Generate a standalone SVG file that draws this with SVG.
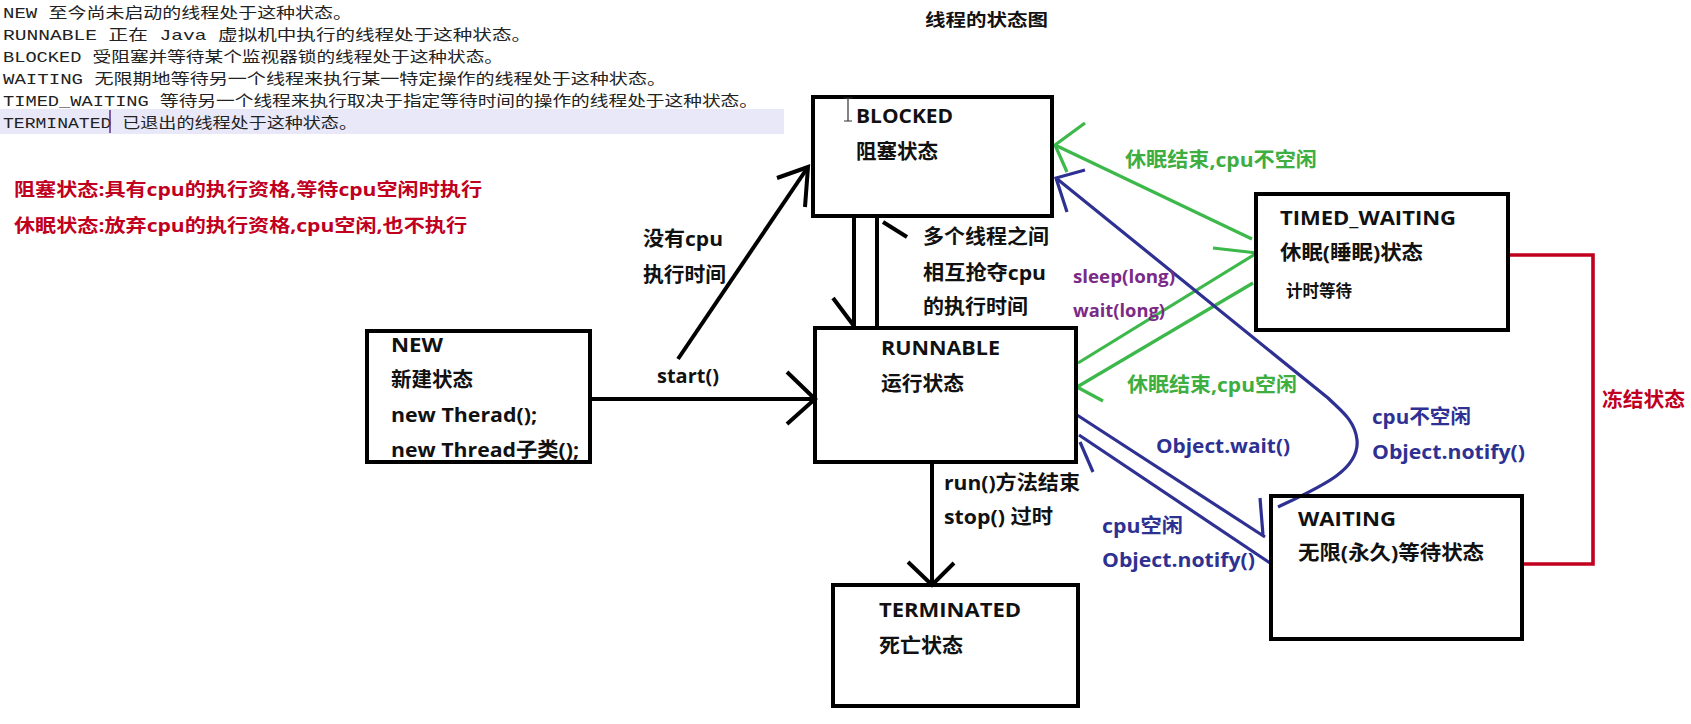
<svg xmlns="http://www.w3.org/2000/svg" width="1691" height="724" viewBox="0 0 1691 724">
<style>
.mono{font-family:"Liberation Mono","Noto Sans CJK SC",monospace;font-size:15px;fill:#222}
.red{font-family:"Open Sans","Noto Sans CJK SC",sans-serif;font-size:18px;font-weight:700;fill:#C0001E}
.lbl{font-family:"Open Sans","Noto Sans CJK SC",sans-serif;font-size:20px;font-weight:700;fill:#111}
.sm{font-family:"Open Sans","Noto Sans CJK SC",sans-serif;font-size:17px;font-weight:700;fill:#111}
.g{fill:#3DAE3F}
.b{fill:#2E3192}
.p{fill:#7B2A86}
.box{fill:none;stroke:#000;stroke-width:4}
.k{stroke:#000;stroke-width:4;fill:none}
.gl{stroke:#3DB84A;stroke-width:3.2;fill:none}
.bl{stroke:#2E3192;stroke-width:3.2;fill:none}
.rl{stroke:#C0001E;stroke-width:3.6;fill:none}
</style>
<rect width="1691" height="724" fill="#fff"/>
<rect x="0" y="109" width="784" height="25" fill="#E8E8F8"/>
<g id="notes">
<text class="mono" x="3" y="17.5" textLength="349" lengthAdjust="spacingAndGlyphs">NEW 至今尚未启动的线程处于这种状态。</text>
<text class="mono" x="3" y="39.5" textLength="528" lengthAdjust="spacingAndGlyphs">RUNNABLE 正在 Java 虚拟机中执行的线程处于这种状态。</text>
<text class="mono" x="3" y="61.5" textLength="500" lengthAdjust="spacingAndGlyphs">BLOCKED 受阻塞并等待某个监视器锁的线程处于这种状态。</text>
<text class="mono" x="3" y="83.5" textLength="663" lengthAdjust="spacingAndGlyphs">WAITING 无限期地等待另一个线程来执行某一特定操作的线程处于这种状态。</text>
<text class="mono" x="3" y="105.5" textLength="755" lengthAdjust="spacingAndGlyphs">TIMED_WAITING 等待另一个线程来执行取决于指定等待时间的操作的线程处于这种状态。</text>
<text class="mono" x="3" y="127.5" textLength="354" lengthAdjust="spacingAndGlyphs">TERMINATED 已退出的线程处于这种状态。</text>
<line x1="110" y1="110" x2="110" y2="133" stroke="#5A2D8A" stroke-width="1.5"/>
<text class="red" x="14" y="196" textLength="468" lengthAdjust="spacingAndGlyphs">阻塞状态:具有cpu的执行资格,等待cpu空闲时执行</text>
<text class="red" x="14" y="232" textLength="453" lengthAdjust="spacingAndGlyphs">休眠状态:放弃cpu的执行资格,cpu空闲,也不执行</text>
<text class="sm" x="925" y="26" textLength="123" lengthAdjust="spacingAndGlyphs">线程的状态图</text>
</g>
<g id="connectors">
<line class="k" x1="590" y1="399" x2="815" y2="399"/>
<polyline class="k" points="787,372 815,399 787,424"/>
<line class="k" x1="678" y1="359" x2="808" y2="167"/>
<polyline class="k" points="777,178 808,167 805,207"/>
<line class="k" x1="854" y1="216" x2="854" y2="328"/>
<line class="k" x1="833" y1="298" x2="854" y2="326"/>
<line class="k" x1="877" y1="328" x2="877" y2="216"/>
<line class="k" x1="883" y1="222" x2="907" y2="237"/>
<line class="k" x1="932" y1="463" x2="932" y2="585"/>
<polyline class="k" points="908,562 932,585 954,563"/>
<line class="gl" x1="1252" y1="239" x2="1055" y2="145"/>
<polyline class="gl" points="1085,123 1055,145 1067,172"/>
<line class="gl" x1="1078" y1="363" x2="1257" y2="253"/>
<line class="gl" x1="1213" y1="248" x2="1257" y2="253"/>
<line class="gl" x1="1253" y1="283" x2="1077" y2="387"/>
<line class="gl" x1="1103" y1="401" x2="1077" y2="387"/>
<line class="bl" x1="1077" y1="415" x2="1265" y2="537"/>
<line class="bl" x1="1260" y1="498" x2="1263" y2="535"/>
<line class="bl" x1="1270" y1="563" x2="1079" y2="435"/>
<line class="bl" x1="1080" y1="442" x2="1093" y2="472"/>
<path class="bl" d="M1278,507 C1320,487 1360,470 1357,440 C1355,420 1340,410 1328,398 L1056,178"/>
<polyline class="bl" points="1085,170 1056,178 1067,212"/>
<polyline class="rl" points="1508,255 1593,255 1593,564 1522,564"/>
</g>
<g id="labels">
<text class="lbl" x="643" y="246" textLength="80" lengthAdjust="spacingAndGlyphs">没有cpu</text>
<text class="lbl" x="643" y="282" textLength="83" lengthAdjust="spacingAndGlyphs">执行时间</text>
<text class="lbl" x="657" y="383" textLength="62" lengthAdjust="spacingAndGlyphs">start()</text>
<text class="lbl" x="923" y="244" textLength="126" lengthAdjust="spacingAndGlyphs">多个线程之间</text>
<text class="lbl" x="923" y="280" textLength="123" lengthAdjust="spacingAndGlyphs">相互抢夺cpu</text>
<text class="lbl" x="923" y="314" textLength="105" lengthAdjust="spacingAndGlyphs">的执行时间</text>
<text class="sm p" x="1073" y="283" textLength="102" lengthAdjust="spacingAndGlyphs">sleep(long)</text>
<text class="sm p" x="1073" y="317" textLength="92" lengthAdjust="spacingAndGlyphs">wait(long)</text>
<text class="lbl" x="944" y="490" textLength="136" lengthAdjust="spacingAndGlyphs">run()方法结束</text>
<text class="lbl" x="944" y="524" textLength="109" lengthAdjust="spacingAndGlyphs">stop() 过时</text>
<text class="lbl g" x="1125" y="167" textLength="192" lengthAdjust="spacingAndGlyphs">休眠结束,cpu不空闲</text>
<text class="lbl g" x="1127" y="392" textLength="170" lengthAdjust="spacingAndGlyphs">休眠结束,cpu空闲</text>
<text class="lbl b" x="1156" y="453" textLength="134" lengthAdjust="spacingAndGlyphs">Object.wait()</text>
<text class="lbl b" x="1372" y="424" textLength="99" lengthAdjust="spacingAndGlyphs">cpu不空闲</text>
<text class="lbl b" x="1372" y="459" textLength="153" lengthAdjust="spacingAndGlyphs">Object.notify()</text>
<text class="lbl b" x="1102" y="533" textLength="81" lengthAdjust="spacingAndGlyphs">cpu空闲</text>
<text class="lbl b" x="1102" y="567" textLength="153" lengthAdjust="spacingAndGlyphs">Object.notify()</text>
<text class="lbl" x="1602" y="407" style="fill:#C0001E" textLength="83" lengthAdjust="spacingAndGlyphs">冻结状态</text>
</g>
<g id="node-new">
<text class="lbl" x="391" y="352" textLength="52" lengthAdjust="spacingAndGlyphs">NEW</text>
<text class="lbl" x="391" y="387" textLength="82" lengthAdjust="spacingAndGlyphs">新建状态</text>
<text class="lbl" x="391" y="422" textLength="146" lengthAdjust="spacingAndGlyphs">new Therad();</text>
<text class="lbl" x="391" y="457" textLength="188" lengthAdjust="spacingAndGlyphs">new Thread子类();</text>
<rect class="box" x="367" y="331" width="223" height="131"/>
</g>
<g id="node-blocked">
<rect class="box" x="813" y="97" width="239" height="119"/>
<text class="lbl" x="856" y="123" textLength="97" lengthAdjust="spacingAndGlyphs">BLOCKED</text>
<text class="lbl" x="856" y="159" textLength="82" lengthAdjust="spacingAndGlyphs">阻塞状态</text>
<path d="M844,98 H852 M848,98 V121 M844,121 H852" stroke="#333" stroke-width="1.2" fill="none"/>
</g>
<g id="node-runnable">
<rect class="box" x="815" y="328" width="261" height="134"/>
<text class="lbl" x="881" y="355" textLength="119" lengthAdjust="spacingAndGlyphs">RUNNABLE</text>
<text class="lbl" x="881" y="391" textLength="83" lengthAdjust="spacingAndGlyphs">运行状态</text>
</g>
<g id="node-terminated">
<rect class="box" x="833" y="585" width="245" height="121"/>
<text class="lbl" x="879" y="617" textLength="142" lengthAdjust="spacingAndGlyphs">TERMINATED</text>
<text class="lbl" x="879" y="653" textLength="84" lengthAdjust="spacingAndGlyphs">死亡状态</text>
</g>
<g id="node-timed-waiting">
<rect class="box" x="1256" y="194" width="252" height="136"/>
<text class="lbl" x="1280" y="225" textLength="176" lengthAdjust="spacingAndGlyphs">TIMED_WAITING</text>
<text class="lbl" x="1280" y="260" textLength="143" lengthAdjust="spacingAndGlyphs">休眠(睡眠)状态</text>
<text class="sm" x="1286" y="297" textLength="66" lengthAdjust="spacingAndGlyphs">计时等待</text>
</g>
<g id="node-waiting">
<rect class="box" x="1271" y="496" width="251" height="143"/>
<text class="lbl" x="1298" y="526" textLength="98" lengthAdjust="spacingAndGlyphs">WAITING</text>
<text class="lbl" x="1298" y="560" textLength="186" lengthAdjust="spacingAndGlyphs">无限(永久)等待状态</text>
</g>
</svg>
